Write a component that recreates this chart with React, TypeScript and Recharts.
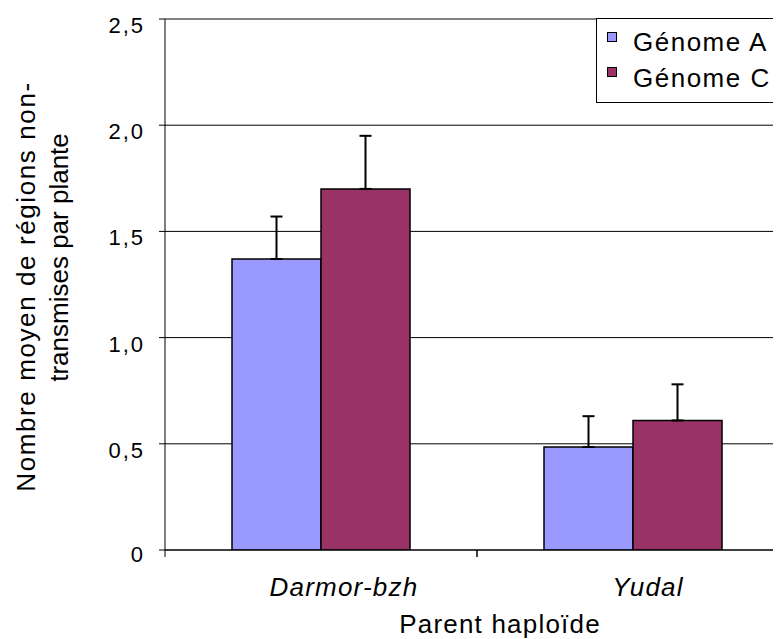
import { Bar, BarChart, CartesianGrid, ErrorBar, XAxis, YAxis } from "recharts";

const FONT = "'Liberation Sans', Arial, sans-serif";

// values
const parents = ["Darmor-bzh", "Yudal"];
const genomeA = [1.37, 0.485];
const genomeC = [1.7, 0.61];
const errGenomeA = [0.2, 0.145];
const errGenomeC = [0.25, 0.17];
const yTicks = [0, 0.5, 1, 1.5, 2, 2.5];

const series = [
  { key: "a", err: "errA", name: "Génome A", color: "#9999FF" },
  { key: "c", err: "errC", name: "Génome C", color: "#993366" },
];

const data = parents.map((parent, i) => ({
  parent,
  a: genomeA[i],
  c: genomeC[i],
  errA: [0, errGenomeA[i]],
  errC: [0, errGenomeC[i]],
}));

// category labels sit a little right of the bar pairs in the original
const labelShift = [23, 15];

function fmt(v: number) {
  return v === 0 ? "0" : v.toFixed(1).replace(".", ",");
}

function XTick(props: any) {
  const { x, y, payload, index } = props;
  const half = payload?.offset ?? 156;
  return (
    <g>
      <line x1={x - half} x2={x - half} y1={y} y2={y + 7} stroke="#000" />
      <line x1={x + half} x2={x + half} y1={y} y2={y + 7} stroke="#000" />
      <text
        x={x + (labelShift[index] ?? 0)}
        y={y + 46}
        textAnchor="middle"
        fontStyle="italic"
        fontSize={26}
        letterSpacing={1.2}
        fontFamily={FONT}
        fill="#000"
      >
        {payload.value}
      </text>
    </g>
  );
}

function YTick(props: any) {
  const { x, y, payload } = props;
  return (
    <text
      x={x}
      y={y + (payload.value === 0 ? 12 : 14)}
      textAnchor="end"
      fontSize={22}
      letterSpacing={2}
      fontFamily={FONT}
      fill="#000"
    >
      {fmt(payload.value)}
    </text>
  );
}

function XLabel(props: any) {
  const vb = props.viewBox;
  return (
    <text
      x={vb.x + vb.width / 2 + 23}
      y={625}
      textAnchor="middle"
      fontSize={26}
      letterSpacing={1.2}
      fontFamily={FONT}
      fill="#000"
    >
      Parent haploïde
    </text>
  );
}

function YLabel(props: any) {
  const vb = props.viewBox;
  const cy = vb.y + vb.height / 2 + 2;
  const cy2 = cy - 29;
  return (
    <g fontSize={26} fontFamily={FONT} fill="#000">
      <text
        x={27}
        y={cy}
        textAnchor="middle"
        letterSpacing={1.6}
        transform={`rotate(-90, 27, ${cy})`}
      >
        Nombre moyen de régions non-
      </text>
      <text x={60} y={cy2} textAnchor="middle" transform={`rotate(-90, 60, ${cy2})`}>
        transmises par plante
      </text>
    </g>
  );
}

function LegendBox() {
  return (
    <div
      style={{
        position: "absolute",
        left: 588,
        top: 10,
        width: 200,
        height: 83,
        border: "1px solid #000",
        background: "#fff",
        fontFamily: FONT,
        fontSize: 26,
        letterSpacing: 1.5,
      }}
    >
      {series.map((s, i) => (
        <div key={s.key}>
          <div
            style={{
              position: "absolute",
              left: 10,
              top: 13 + i * 35,
              width: 8,
              height: 8,
              border: "1px solid #000",
              background: s.color,
            }}
          />
          <div
            style={{
              position: "absolute",
              left: 36,
              top: 10 + i * 36,
              lineHeight: "26px",
              whiteSpace: "nowrap",
            }}
          >
            {s.name}
          </div>
        </div>
      ))}
    </div>
  );
}

export default function App() {
  return (
    <div style={{ position: "relative", width: 773, height: 631, overflow: "hidden", background: "#fff" }}>
      <BarChart
        width={800}
        height={631}
        data={data}
        margin={{ top: 11, right: 19, bottom: 29, left: 97 }}
        barCategoryGap={67}
        barGap={0}
      >
        <CartesianGrid vertical={false} stroke="#000" />
        <XAxis
          dataKey="parent"
          height={60}
          interval={0}
          axisLine={{ stroke: "#000" }}
          tickLine={false}
          tickSize={0}
          tickMargin={0}
          tick={<XTick />}
          label={<XLabel />}
        />
        <YAxis
          width={60}
          domain={[0, 2.5]}
          ticks={yTicks}
          allowDataOverflow
          axisLine={{ stroke: "#000" }}
          tickLine={{ stroke: "#000" }}
          tickSize={6}
          tickMargin={14}
          tick={<YTick />}
          label={<YLabel />}
        />
        {series.map((s) => (
          <Bar
            key={s.key}
            dataKey={s.key}
            name={s.name}
            fill={s.color}
            stroke="#000"
            strokeWidth={1.5}
            isAnimationActive={false}
          >
            <ErrorBar dataKey={s.err} direction="y" width={6} stroke="#000" strokeWidth={2} />
          </Bar>
        ))}
      </BarChart>
      <LegendBox />
    </div>
  );
}
